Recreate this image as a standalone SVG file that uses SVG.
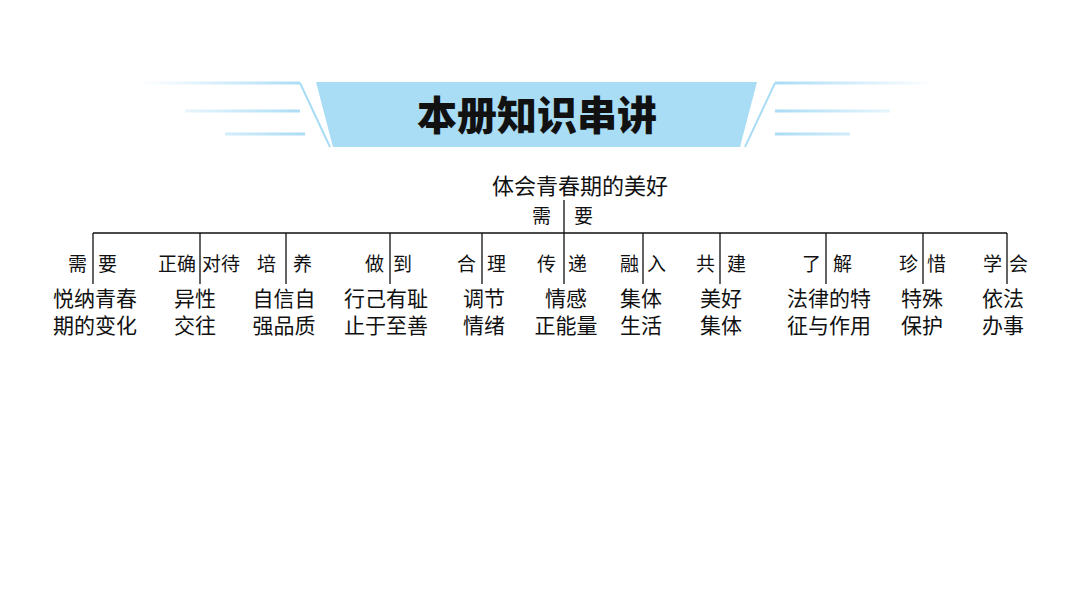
<svg xmlns="http://www.w3.org/2000/svg" width="1080" height="608" viewBox="0 0 1080 608">
<defs>
<linearGradient id="gl" x1="0" x2="1"><stop offset="0" stop-color="#a9dcf5" stop-opacity="0"/><stop offset="1" stop-color="#a9dcf5"/></linearGradient>
<linearGradient id="gr" x1="1" x2="0"><stop offset="0" stop-color="#a9dcf5" stop-opacity="0"/><stop offset="1" stop-color="#a9dcf5"/></linearGradient>
<style>
.t{font-family:"Noto Sans CJK SC","Noto Sans",sans-serif;fill:#111}
.s{font-size:19px}
.b{font-size:21px;text-anchor:middle}
.l{stroke:#111;stroke-width:1.3;fill:none}
</style>
</defs>
<rect width="1080" height="608" fill="#fff"/>
<g id="banner">
<path d="M140 83H300M185 111H300M225 134H305" stroke="url(#gl)" stroke-width="3"/>
<path d="M775 83H935M775 111H890M775 134H850" stroke="url(#gr)" stroke-width="3"/>
<path d="M300 83L330 147M775 83L745 147" stroke="#a9dcf5" stroke-width="2"/>
<polygon points="316,82 757,82 740,147 333,147" fill="#a9dcf5"/>
<text x="537" y="130" text-anchor="middle" class="t" font-size="40" font-weight="900" fill="#1a2530">本册知识串讲</text>
</g>
<g id="connectors">
<path class="l" d="M564 200V284M93 233H1007M93 233V284M200 233V284M286 233V284M390 233V284M482 233V284M643 233V284M720 233V284M826 233V284M923 233V284M1007 233V284"/>
</g>
<g id="root">
<text class="t" x="580" y="194" font-size="22" text-anchor="middle">体会青春期的美好</text>
<text class="t s" x="532" y="223">需</text><text class="t s" x="574" y="223">要</text>
</g>
<g id="labels">
<text class="t s" x="68" y="271">需</text><text class="t s" x="98" y="271">要</text>
<text class="t s" x="158" y="271">正确</text><text class="t s" x="202" y="271">对待</text>
<text class="t s" x="257" y="271">培</text><text class="t s" x="293" y="271">养</text>
<text class="t s" x="365" y="271">做</text><text class="t s" x="393" y="271">到</text>
<text class="t s" x="457" y="271">合</text><text class="t s" x="487" y="271">理</text>
<text class="t s" x="537" y="271">传</text><text class="t s" x="568" y="271">递</text>
<text class="t s" x="620" y="271">融</text><text class="t s" x="647" y="271">入</text>
<text class="t s" x="696" y="271">共</text><text class="t s" x="727" y="271">建</text>
<text class="t s" x="802" y="271">了</text><text class="t s" x="833" y="271">解</text>
<text class="t s" x="899" y="271">珍</text><text class="t s" x="927" y="271">惜</text>
<text class="t s" x="983" y="271">学</text><text class="t s" x="1009" y="271">会</text>
</g>
<g id="leaves">
<text class="t b" x="95" y="306">悦纳青春</text><text class="t b" x="95" y="333">期的变化</text>
<text class="t b" x="195" y="306">异性</text><text class="t b" x="195" y="333">交往</text>
<text class="t b" x="284" y="306">自信自</text><text class="t b" x="284" y="333">强品质</text>
<text class="t b" x="386" y="306">行己有耻</text><text class="t b" x="386" y="333">止于至善</text>
<text class="t b" x="484" y="306">调节</text><text class="t b" x="484" y="333">情绪</text>
<text class="t b" x="566" y="306">情感</text><text class="t b" x="566" y="333">正能量</text>
<text class="t b" x="641" y="306">集体</text><text class="t b" x="641" y="333">生活</text>
<text class="t b" x="721" y="306">美好</text><text class="t b" x="721" y="333">集体</text>
<text class="t b" x="829" y="306">法律的特</text><text class="t b" x="829" y="333">征与作用</text>
<text class="t b" x="922" y="306">特殊</text><text class="t b" x="922" y="333">保护</text>
<text class="t b" x="1003" y="306">依法</text><text class="t b" x="1003" y="333">办事</text>
</g>
</svg>
